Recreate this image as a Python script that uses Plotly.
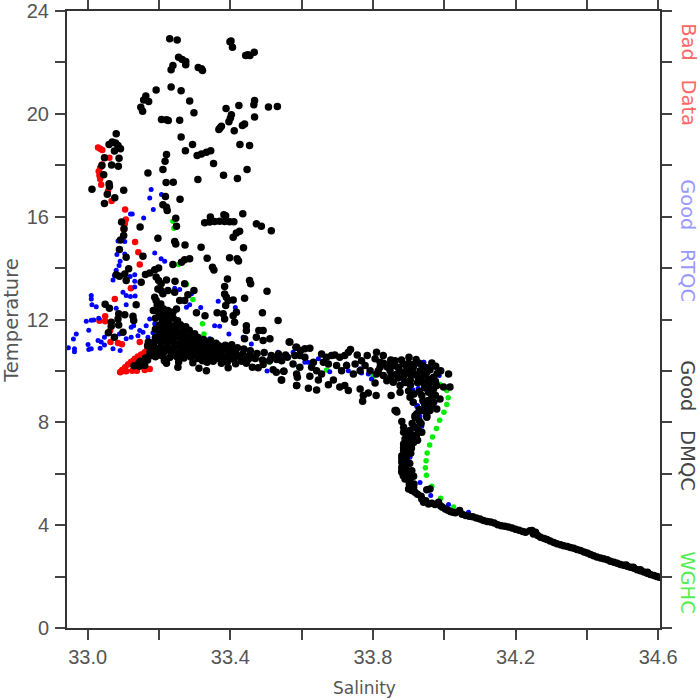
import plotly.graph_objects as go

x_tick_vals = [33.0, 33.2, 33.4, 33.6, 33.8, 34.0, 34.2, 34.4, 34.6]
x_tick_text = ["33.0", "", "33.4", "", "33.8", "", "34.2", "", "34.6"]
y_tick_vals = [0, 2, 4, 6, 8, 10, 12, 14, 16, 18, 20, 22, 24]
y_tick_text = ["0", "", "4", "", "8", "", "12", "", "16", "", "20", "", "24"]

dmqc_upper = [(33.230,22.92),(33.251,22.87),(33.402,22.83),(33.406,22.59),(33.399,22.80),(33.467,22.40),(33.443,22.27),(33.455,22.27),(33.449,22.30),
(33.255,22.20),(33.265,22.11),(33.275,22.04),(33.275,21.91),(33.239,21.88),(33.234,21.71),(33.310,21.80),(33.319,21.75),(33.322,21.69),
(33.234,21.04),(33.192,20.93),(33.262,20.90),(33.163,20.69),(33.157,20.54),(33.171,20.48),(33.286,20.50),(33.468,20.52),(33.466,20.35),
(33.424,20.32),(33.507,20.27),(33.532,20.29),(33.388,20.21),(33.149,20.26),(33.154,20.10),(33.298,20.04),(33.403,19.96),(33.400,19.83),
(33.396,19.69),(33.468,19.88),(33.207,19.78),(33.221,19.77),(33.226,19.74),(33.258,19.75),(33.440,19.60),(33.434,19.55),(33.375,19.52),
(33.368,19.39),(33.371,19.45),(33.411,19.34),(33.080,19.23),(33.262,19.10),(33.427,18.81),(33.454,18.77),(33.294,18.81),(33.060,18.81),
(33.078,18.87),(33.069,18.90),(33.092,18.64),(33.075,18.55),(33.085,18.77),(33.274,18.56),(33.307,18.38),(33.319,18.44),(33.333,18.51),
(33.345,18.56),(33.221,18.42),(33.047,18.29),(33.088,18.27),(33.217,18.16),(33.353,18.07),(33.040,17.99),(33.067,18.01),(33.086,17.96),
(33.211,17.83),(33.169,17.70),(33.447,17.83),(33.045,17.63),(33.381,17.61),(33.309,17.45),(33.420,17.48),(33.220,17.33),(33.240,17.34),
(33.060,17.28),(33.061,17.17),(33.012,17.07),(33.101,17.03),(33.055,16.87),(33.218,16.78),(33.259,16.68),(33.076,16.74),(33.047,16.51),
(33.211,16.46),(33.221,16.37),(33.223,16.24),(33.435,16.11),(33.382,16.07),(33.387,16.04),(33.344,15.99),(33.247,15.94)]

dmqc_middle = [(33.328,15.76),(33.342,15.79),(33.356,15.81),(33.370,15.82),(33.384,15.81),(33.398,15.80),(33.410,15.80),(33.473,15.72),
(33.487,15.63),(33.515,15.45),(33.249,15.63),(33.095,15.79),(33.147,15.60),(33.102,15.53),(33.101,15.27),(33.092,15.09),(33.197,15.16),
(33.244,15.03),(33.247,14.94),(33.273,14.90),(33.318,14.81),(33.437,14.79),(33.426,15.43),(33.417,15.36),(33.408,15.20),(33.089,14.72),
(33.108,14.42),(33.155,14.46),(33.335,14.38),(33.398,14.40),(33.419,14.36),(33.423,14.28),(33.272,14.32),(33.286,14.36),(33.263,14.23),
(33.239,14.14),(33.350,14.03),(33.354,13.93),(33.115,13.97),(33.199,14.00),(33.188,13.94),(33.174,13.81),(33.162,13.75),(33.104,13.77),
(33.080,13.74),(33.089,13.68),(33.108,13.52),(33.192,13.65),(33.199,13.52),(33.206,13.39),(33.221,13.54),(33.245,13.49),(33.392,13.58),
(33.454,13.52),(33.457,13.39),(33.150,13.45),(33.272,13.39),(33.384,13.28),(33.197,13.19),(33.206,13.13),(33.211,13.00),(33.225,13.13),
(33.244,13.06),(33.298,13.13),(33.281,12.96),(33.384,12.99),(33.503,13.10),(33.188,12.87),(33.192,12.74),(33.258,12.74),(33.272,12.74),
(33.389,12.87),(33.394,12.74),(33.408,12.76),(33.440,12.83),(33.387,12.54),(33.184,12.35),(33.049,12.59),(33.061,12.44),(33.136,12.57),
(33.239,12.28),(33.249,12.41),(33.305,12.26),(33.329,12.15),(33.363,12.26),(33.380,12.22),(33.384,12.02),(33.408,12.15),(33.417,12.28),
(33.490,12.26),(33.087,12.22),(33.104,12.18),(33.085,12.02),(33.127,12.13),(33.129,11.96),(33.066,11.89),(33.087,11.79),(33.066,11.74),
(33.058,11.48),(33.534,11.96),(33.412,11.89),(33.445,11.76),(33.480,11.57),(33.492,11.57),(33.445,11.57),(33.075,11.31),(33.099,11.50),
(33.473,11.31),(33.492,11.18),(33.511,11.25),(33.440,11.25),(33.567,11.12),(33.586,10.92),(33.543,9.65),(33.586,9.43),(33.253,10.14),
(33.221,10.30),(33.312,10.10),(33.333,10.01),(33.394,10.12),(33.462,10.14),(33.478,10.12),(33.492,10.25),(33.520,10.05),(33.529,9.95),(33.550,9.99)]

dmqc_cluster = [(33.195,12.55),(33.205,12.60),(33.212,12.42),(33.198,12.30),(33.215,12.20),(33.225,12.35),(33.232,12.15),(33.205,12.10),
(33.190,12.05),(33.222,11.98),(33.240,12.05),(33.252,11.95),(33.210,11.90),(33.200,11.78),(33.228,11.82),(33.243,11.76),(33.260,11.80),
(33.275,11.72),(33.190,11.62),(33.212,11.65),(33.230,11.60),(33.250,11.62),(33.268,11.55),(33.285,11.58),(33.300,11.45),(33.200,11.48),
(33.218,11.45),(33.236,11.42),(33.254,11.48),(33.272,11.38),(33.290,11.35),(33.310,11.30),(33.190,11.30),(33.208,11.32),(33.226,11.28),
(33.244,11.30),(33.262,11.25),(33.280,11.20),(33.298,11.15),(33.318,11.12),(33.335,11.10),(33.170,11.12),(33.188,11.15),(33.206,11.13),
(33.224,11.10),(33.242,11.14),(33.260,11.08),(33.278,11.05),(33.296,11.00),(33.314,10.98),(33.332,10.95),(33.350,11.02),(33.368,10.98),
(33.386,11.00),(33.404,11.02),(33.168,10.98),(33.186,10.96),(33.204,10.92),(33.222,10.95),(33.240,10.90),(33.258,10.93),
(33.276,10.88),(33.294,10.85),(33.312,10.82),(33.330,10.85),(33.348,10.88),(33.366,10.82),(33.384,10.85),(33.402,10.80),(33.420,10.90),
(33.438,10.85),(33.456,10.78),(33.175,10.76),(33.195,10.72),(33.215,10.75),(33.235,10.70),(33.255,10.72),
(33.275,10.68),(33.295,10.70),(33.315,10.66),(33.335,10.68),(33.355,10.70),(33.375,10.64),(33.395,10.66),(33.415,10.72),(33.435,10.66),
(33.455,10.62),(33.475,10.68),(33.495,10.72),(33.515,10.60),(33.535,10.66),(33.555,10.62),(33.190,10.55),(33.210,10.58),(33.230,10.52),
(33.250,10.55),(33.270,10.50),(33.290,10.53),(33.310,10.48),(33.330,10.50),(33.350,10.52),(33.370,10.46),(33.390,10.48),(33.410,10.44),
(33.430,10.50),(33.450,10.44),(33.470,10.48),(33.490,10.42),(33.510,10.40),(33.530,10.44),(33.215,10.40),(33.255,10.35),(33.295,10.32),
(33.335,10.34),(33.375,10.30),(33.415,10.28),(33.445,10.30),(33.130,10.20),(33.140,10.25),(33.147,10.38),(33.155,10.30),(33.162,10.50),
(33.168,10.42),(33.174,10.62),(33.160,10.22),(33.145,10.18),(33.228,12.05),(33.218,11.75),(33.238,11.52),(33.258,11.35),(33.225,11.18),
(33.245,11.02),(33.265,10.98),(33.285,10.80),(33.305,10.92),(33.325,10.76),(33.345,10.78),
(33.203,11.20),(33.233,11.22),(33.268,11.15),(33.288,11.10),(33.308,11.05),(33.180,10.85),(33.210,10.82),(33.232,10.80),(33.268,10.78),
(33.300,10.60),(33.320,10.58),(33.342,10.60),(33.362,10.60),(33.382,10.56),(33.402,10.58),(33.422,10.58),(33.442,10.55),(33.462,10.52),
(33.240,10.62),(33.262,10.62),(33.282,10.60),(33.200,10.62),(33.178,10.60),(33.322,10.40),(33.352,10.38),(33.392,10.36),(33.432,10.38),
(33.340,10.95),(33.360,10.92),(33.378,10.92),(33.395,10.92),(33.412,10.85),(33.360,11.08),(33.325,11.22),(33.345,11.18)]

dmqc_band = [(33.565,11.12),(33.584,10.92),(33.597,10.79),(33.609,10.86),(33.623,10.88),(33.544,10.40),(33.560,10.53),(33.581,10.60),
(33.595,10.60),(33.609,10.53),(33.576,10.27),(33.595,10.14),(33.550,9.99),(33.544,9.65),(33.586,9.88),(33.588,9.75),(33.623,9.79),
(33.586,9.43),(33.619,9.33),(33.642,9.26),(33.633,10.34),(33.628,10.14),(33.656,10.66),(33.670,10.53),(33.684,10.60),(33.693,10.62),
(33.707,10.53),(33.721,10.60),(33.731,10.73),(33.737,10.83),(33.756,10.62),(33.784,10.60),(33.768,10.40),(33.810,10.73),(33.829,10.60),
(33.806,10.47),(33.820,10.34),(33.862,10.40),(33.901,10.53),(33.921,10.44),(33.965,10.31),(33.976,10.18),(33.990,10.01),(34.012,9.88),
(34.016,9.37),(33.661,10.34),(33.675,10.27),(33.698,10.21),(33.712,10.01),(33.642,10.01),(33.656,9.88),(33.647,9.65),(33.689,9.65),
(33.675,9.46),(33.707,9.37),(33.721,9.43),(33.731,9.24),(33.764,9.30),(33.787,9.14),(33.773,9.04),(33.771,8.82),(33.806,9.53),(33.809,9.04),
(33.745,9.88),(33.764,10.01),(33.792,10.01),(33.810,9.88),(33.829,9.82),(33.848,10.01),(33.871,10.14),(33.895,10.08),(33.913,10.14),
(33.932,10.01),(33.951,9.95),(33.970,9.75),(33.839,9.62),(33.857,9.56),(33.876,9.43),(33.851,9.04),(33.876,9.17),(33.904,8.98),(33.913,8.78),
(33.937,9.04),(33.956,9.17),(33.970,9.30),(33.979,9.43),(33.998,9.37),(33.988,8.91),(33.970,8.78),(33.956,8.59),(33.979,8.52),(33.865,8.46),
(33.918,8.26),(33.951,8.26),(33.820,10.14),(33.848,10.27),(33.885,10.27),(33.904,9.88),(33.927,9.75),(33.956,9.69),(33.867,9.88),(33.815,10.01),
(33.726,10.21),(33.750,10.27),(33.778,10.21),(33.830,10.30),(33.840,10.15),(33.860,10.20),(33.875,10.00),(33.885,9.75),(33.900,10.30),
(33.910,10.00),(33.920,9.85),(33.940,10.20),(33.945,9.85),(33.960,10.05),(33.980,9.90),(33.940,9.55),(33.925,9.55),(33.905,9.65),(33.890,9.55),
(33.950,9.45),(33.960,9.30),(33.965,9.05),(33.955,8.85),(33.940,8.85),
(33.850,10.42),(33.880,10.42),(33.915,10.25),(33.930,10.30),(33.950,10.12),(33.890,9.92),(33.870,9.72),(33.850,9.78),(33.905,9.45),(33.935,9.70),
(33.945,9.35),(33.930,9.20),(33.915,9.10),(33.900,9.22),(33.960,9.55),(33.975,9.60),(33.975,9.05),(33.945,8.70),(33.930,8.50),(33.945,8.45)]

dmqc_curve = [(33.862,8.46),(33.867,8.40),(33.881,8.03),(33.886,7.81),(33.886,7.61),(33.904,7.68),(33.918,7.81),(33.927,7.68),(33.937,7.61),
(33.918,8.20),(33.923,8.33),(33.937,8.46),(33.951,8.20),(33.960,8.46),(33.965,8.65),(33.930,8.05),(33.910,7.95),(33.922,7.50),(33.910,7.45),
(33.895,7.48),(33.890,7.35),(33.900,7.35),(33.886,7.16),(33.900,7.10),(33.914,7.22),(33.886,7.02),(33.896,6.98),(33.886,6.90),(33.900,6.84),
(33.881,6.70),(33.893,6.64),(33.881,6.58),(33.893,6.52),(33.881,6.45),(33.895,6.38),(33.881,6.25),(33.893,6.19),(33.881,6.14),(33.881,6.06),
(33.895,5.99),(33.909,6.12),(33.885,5.92),(33.890,5.80),(33.904,5.80),(33.914,5.90),(33.900,5.41),(33.909,5.35),(33.914,5.47),(33.918,5.28),
(33.951,5.38),(33.960,5.41),(33.905,5.48),(33.937,5.02),(33.942,4.89),(33.956,4.82),(33.974,4.80),(33.984,4.89),(33.948,4.95),(33.965,4.85),
(34.003,4.63),(34.017,4.53),(34.031,4.48),(34.043,4.57),(34.010,4.58),(34.024,4.50),(33.905,7.25),(33.908,7.00),(33.906,6.80),(33.903,6.40),
(33.903,6.00),(33.902,5.60),(33.915,5.60),(33.925,5.20),(33.935,5.12),(33.990,4.75),(33.995,4.70),(33.925,7.30),(33.935,7.95)]

dmqc_tail = [(34.050,4.42),(34.060,4.38),(34.070,4.35),(34.080,4.33),(34.090,4.28),(34.100,4.24),(34.110,4.18),(34.120,4.14),(34.130,4.12),
(34.140,4.08),(34.150,4.02),(34.160,3.98),(34.170,3.96),(34.180,3.93),(34.190,3.89),(34.200,3.84),(34.210,3.80),(34.220,3.75),(34.228,3.72),
(34.240,3.78),(34.246,3.79),(34.256,3.72),(34.250,3.66),(34.262,3.60),(34.270,3.53),(34.280,3.48),(34.288,3.44),(34.297,3.38),(34.307,3.33),
(34.316,3.28),(34.326,3.24),(34.335,3.20),(34.345,3.17),(34.354,3.13),(34.363,3.10),(34.372,3.05),(34.382,3.01),(34.392,2.96),(34.401,2.92),
(34.410,2.86),(34.419,2.81),(34.428,2.76),(34.438,2.72),(34.447,2.69),(34.457,2.65),(34.466,2.60),(34.476,2.56),(34.485,2.52),(34.494,2.47),
(34.503,2.44),(34.513,2.40),(34.522,2.36),(34.532,2.32),(34.541,2.27),(34.550,2.23),(34.560,2.18),(34.569,2.13),(34.578,2.08),(34.588,2.04),
(34.596,2.00),(34.603,1.97),(34.510,2.45),(34.530,2.36),(34.550,2.27),(34.570,2.17)]

bad_upper = [(33.029,18.69),(33.035,18.64),(33.041,18.59),(33.061,18.29),(33.040,18.03),(33.035,17.90),(33.031,17.77),(33.033,17.60),
(33.035,17.47),(33.038,17.24),(33.057,17.00),(33.067,16.61),(33.105,16.28),(33.107,15.89),(33.104,15.72),(33.101,15.50),(33.133,15.01),
(33.142,14.62),(33.146,14.14),(33.121,13.22),(33.076,12.80),(33.049,12.13),(33.033,11.95),(33.049,11.93),(33.063,11.57),(33.064,11.12),
(33.085,11.09),(33.096,11.04),(33.146,11.12)]
bad_streak = [(33.091,9.95),(33.097,10.04),(33.105,10.14),(33.113,10.25),(33.122,10.36),(33.132,10.47),(33.141,10.56),(33.150,10.64),
(33.160,10.73),(33.108,9.99),(33.125,10.01),(33.138,10.01),(33.160,10.04),(33.174,10.07),(33.094,9.98),(33.104,10.00),(33.166,10.79),
(33.188,10.79),(33.118,10.28),(33.128,10.38)]

rtqc_left = [(33.178,17.06),(33.207,16.86),(33.174,16.73),(33.184,16.28),(33.120,16.10),(33.125,16.10),(33.157,15.95),(33.085,15.05),(33.104,15.03),
(33.188,14.59),(33.206,14.36),(33.216,14.27),(33.082,14.53),(33.104,14.55),(33.091,14.27),(33.088,14.10),(33.080,13.92),(33.075,13.71),
(33.071,13.54),(33.132,13.74),(33.119,13.67),(33.132,13.49),(33.132,13.26),(33.099,13.06),(33.108,12.93),(33.120,12.89),(33.133,12.91),
(33.010,12.93),(33.010,12.80),(33.012,12.57),(33.024,12.50),(33.080,12.44),(33.108,12.57),(32.996,11.93),(33.010,11.97),(33.017,11.98),
(33.031,12.05),(33.003,11.58),(32.968,11.44),(32.960,11.24),(33.001,11.03),(33.010,10.86),(33.003,10.83),(32.946,10.90),(32.963,10.86),
(32.963,10.75),(33.029,11.18),(33.038,11.12),(33.047,11.31),(33.035,10.88),(33.047,11.01),(33.071,10.86),(33.091,10.79),(33.089,11.44),
(33.108,11.25),(33.122,11.70),(33.129,11.76),(33.122,11.31),(33.146,11.57),(33.141,11.37),(33.155,11.50),(33.164,11.76),(33.174,12.02),
(33.188,11.83),(33.169,11.31),(33.183,11.48)]
rtqc_right = [(33.277,12.48),(33.286,12.57),(33.244,13.22),(33.258,13.17),(33.291,13.00),(33.366,12.71),(33.317,12.47),(33.414,12.47),
(33.356,11.76),(33.370,11.74),(33.342,11.25),(33.328,11.18),(33.396,11.44),(33.459,11.05),(33.436,11.31),(33.412,10.65),(33.534,10.73),
(33.503,10.00),(33.539,10.56),(33.509,10.47),(33.230,12.35),(33.202,12.09),(33.576,10.73),(33.609,10.34),(33.618,10.34),(33.647,10.47),
(33.656,9.85),(33.679,9.97),(33.726,10.27),(33.731,10.01),(33.764,10.08),(33.768,9.92),(33.787,9.88),(33.796,9.69),(33.893,10.27),
(33.943,10.34),(33.853,9.88),(33.885,9.56),(33.912,9.27),(33.927,9.33),(33.946,9.30),(33.986,9.82),(33.939,8.78),(33.923,8.62),(33.974,8.78),
(33.932,5.66),(33.962,5.15),(34.012,4.80),(34.068,4.50),(33.942,10.34),(33.912,9.23),(33.940,8.78),(33.925,8.65),(33.932,8.24),(33.937,7.85),
(33.914,7.55),(33.904,6.64)]

wghc_curve = [(33.988,9.47),(34.007,9.24),(34.011,8.96),(34.007,8.69),(33.999,8.39),(33.987,8.08),(33.978,7.76),(33.967,7.43),(33.959,7.12),
(33.952,6.81),(33.949,6.51),(33.947,6.23),(33.950,5.94),(33.965,5.51),(33.990,5.05),(34.026,4.71)]
wghc_upper = [(33.670,10.04),(33.592,10.14),(33.801,9.79),(33.239,15.82),(33.242,15.55),(33.255,14.14),(33.277,13.36),(33.295,12.78),
(33.326,11.44),(33.322,11.83),(33.509,10.34),(33.249,14.94)]

series_names = ["WGHC", "Bad Data", "Good RTQC", "Good DMQC"]
series_points = [wghc_curve + wghc_upper, bad_upper + bad_streak, rtqc_left + rtqc_right,
                 dmqc_upper + dmqc_middle + dmqc_cluster + dmqc_band + dmqc_curve + dmqc_tail]
series_colors = ["#00ee00", "#ff0000", "#0000ff", "#000000"]
series_sizes = [5.5, 6.5, 5, 7.5]

side_labels = ["Bad&nbsp;&nbsp;&nbsp;Data", "Good&nbsp;&nbsp;&nbsp;RTQC", "Good&nbsp;&nbsp;&nbsp;DMQC", "WGHC"]
side_positions = [75, 241, 426, 583]
side_colors = ["#ff6666", "#9999ff", "#444444", "#55ee55"]

fig = go.Figure()
for name, pts, c, sz in zip(series_names, series_points, series_colors, series_sizes):
    fig.add_trace(go.Scatter(x=[p[0] for p in pts], y=[p[1] for p in pts], mode="markers", name=name,
                             marker=dict(color=c, size=sz, line=dict(width=0))))

axis_common = dict(showgrid=False, zeroline=False, showline=True, linecolor="#333333", linewidth=2,
                   ticks="outside", ticklen=10, tickwidth=1.5, tickcolor="#444444", mirror="ticks", automargin=False,
                   tickfont=dict(family="Liberation Sans", size=20, color="#555555"))
fig.update_layout(
    width=700, height=700, autosize=False, showlegend=False,
    paper_bgcolor="white", plot_bgcolor="white",
    margin=dict(l=67, r=40, t=11, b=72, pad=0),
    xaxis=dict(range=[32.942, 34.605], tickmode="array", tickvals=x_tick_vals, ticktext=x_tick_text, **axis_common),
    yaxis=dict(range=[0, 24], tickmode="array", tickvals=y_tick_vals, ticktext=y_tick_text, ticklabelstandoff=2, **axis_common),
)
fig.add_annotation(text="Salinity", xref="paper", yref="paper", x=0.502, y=-0.098, xanchor="center", yanchor="middle", showarrow=False,
                   font=dict(family="DejaVu Sans", size=17, color="#555555"))
fig.add_annotation(text="Temperature", xref="paper", yref="paper", x=-0.095, y=0.499, xanchor="center", yanchor="middle",
                   textangle=-90, showarrow=False, font=dict(family="DejaVu Sans", size=19.5, color="#555555"))
for lab, py, col in zip(side_labels, side_positions, side_colors):
    fig.add_annotation(text=lab, xref="paper", yref="paper", x=1.047, y=(628 - py) / 617, xanchor="center", yanchor="middle",
                       textangle=90, showarrow=False, font=dict(family="DejaVu Sans", size=19.5, color=col))

fig.write_html("out.html", post_script="document.body.style.margin='0';", config={"displayModeBar": False})
